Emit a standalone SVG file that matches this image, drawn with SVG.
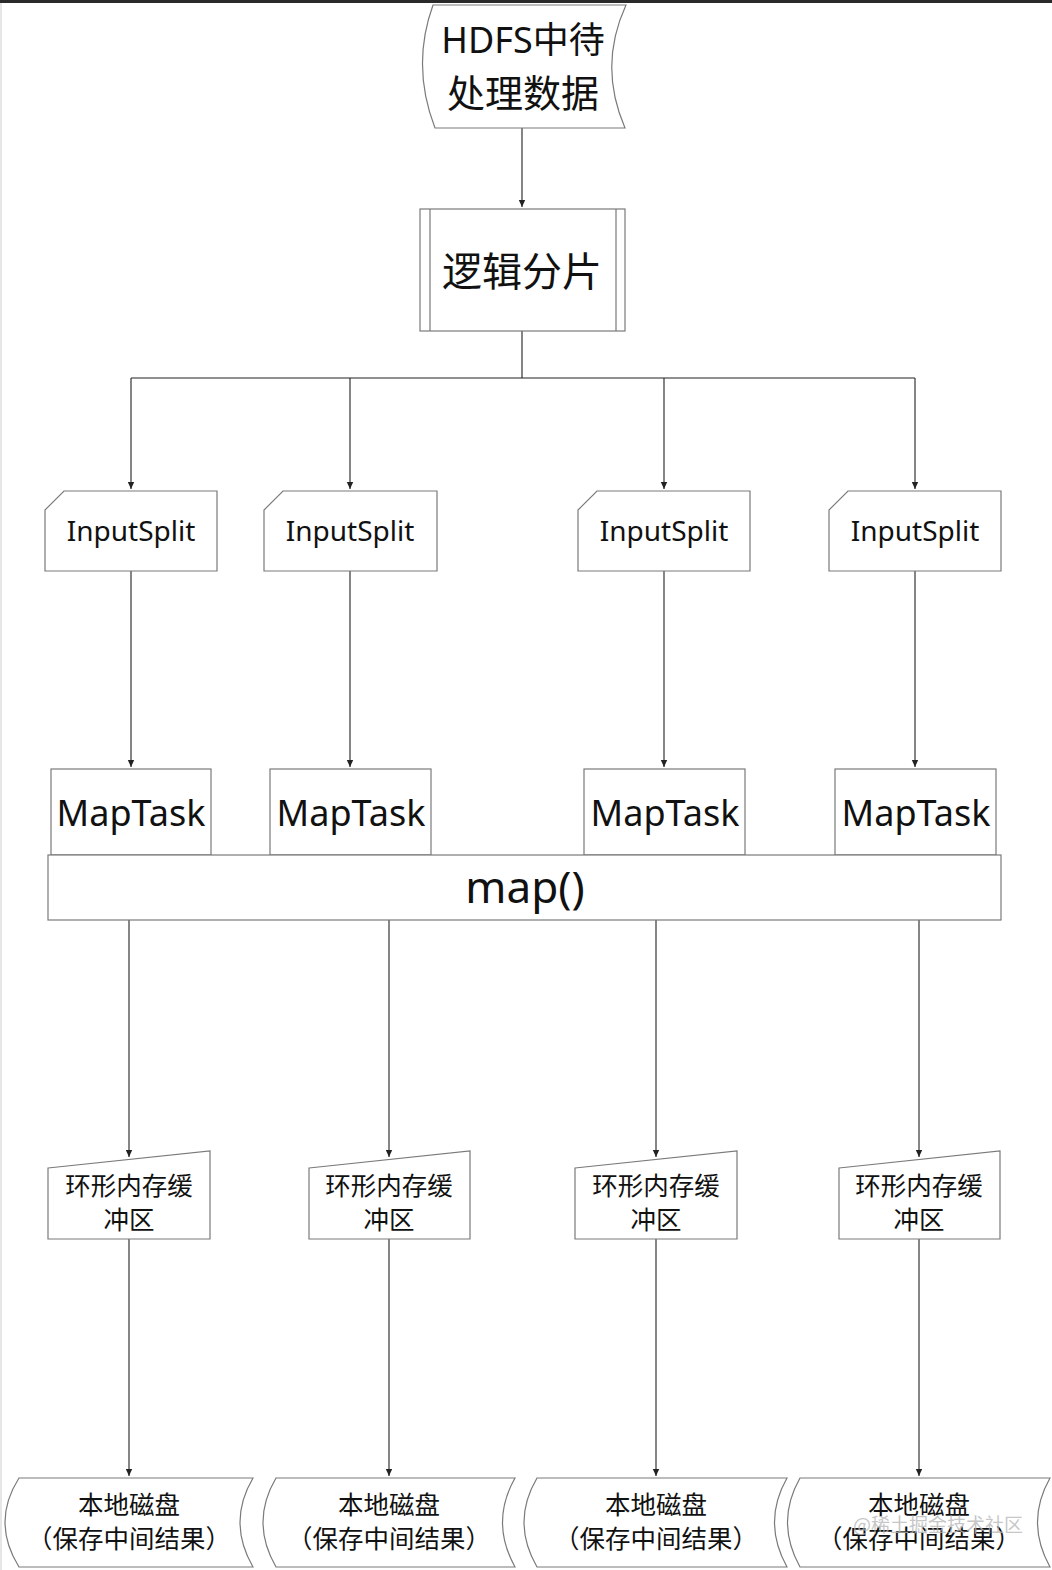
<svg xmlns="http://www.w3.org/2000/svg" width="1052" height="1570" viewBox="0 0 1052 1570">
<style>
.n{fill:#fff;stroke:#7a7a7a;stroke-width:1.2}
.t{font-family:"Noto Sans","Open Sans","Noto Sans CJK SC",sans-serif;fill:#111;text-anchor:middle}
.c{font-family:"Noto Sans CJK SC","Noto Sans",sans-serif;fill:#111;text-anchor:middle}
.s{font-size:25.5px}
.e{fill:none;stroke:#222;stroke-width:1.1}
</style>
<defs>
<marker id="a" markerWidth="8" markerHeight="8" refX="7" refY="4" orient="auto" markerUnits="userSpaceOnUse">
<path d="M0,0.8 L7,4 L0,7.2 Z" fill="#222"/>
</marker>
</defs>
<rect width="1052" height="1570" fill="#fff"/>
<rect x="0" y="0" width="1052" height="3" fill="#2a2a2a"/>
<rect x="0" y="3" width="2" height="1567" fill="#e6e6e6"/>

<g id="connectors">
<path class="e" d="M522,128 V207" marker-end="url(#a)"/>
<path class="e" d="M522,331 V378 M131,378 H915"/>
<path class="e" d="M131,378 V489" marker-end="url(#a)"/>
<path class="e" d="M350,378 V489" marker-end="url(#a)"/>
<path class="e" d="M664,378 V489" marker-end="url(#a)"/>
<path class="e" d="M915,378 V489" marker-end="url(#a)"/>
<path class="e" d="M131,571 V767" marker-end="url(#a)"/>
<path class="e" d="M350,571 V767" marker-end="url(#a)"/>
<path class="e" d="M664,571 V767" marker-end="url(#a)"/>
<path class="e" d="M915,571 V767" marker-end="url(#a)"/>
<path class="e" d="M129,920 V1157" marker-end="url(#a)"/>
<path class="e" d="M389,920 V1157" marker-end="url(#a)"/>
<path class="e" d="M656,920 V1157" marker-end="url(#a)"/>
<path class="e" d="M919,920 V1157" marker-end="url(#a)"/>
<path class="e" d="M129,1239 V1476" marker-end="url(#a)"/>
<path class="e" d="M389,1239 V1476" marker-end="url(#a)"/>
<path class="e" d="M656,1239 V1476" marker-end="url(#a)"/>
<path class="e" d="M919,1239 V1476" marker-end="url(#a)"/>
</g>

<g id="hdfs">
<path class="n" d="M433,5 L626,5 Q598,66 625,128 L435,128 Q411,66 433,5 Z"/>
<text class="t" x="523" y="53" font-size="36">HDFS中待</text>
<text class="c" x="523" y="107" font-size="38">处理数据</text>
</g>

<g id="split">
<rect class="n" x="420" y="209" width="205" height="122"/>
<path class="n" d="M430,209 V331 M616,209 V331"/>
<text class="c" x="522" y="286" font-size="40">逻辑分片</text>
</g>

<g id="inputsplit1">
<path class="n" d="M64,491 H217 V571 H45 V510 Z"/>
<text class="t" x="131" y="541" font-size="28">InputSplit</text>
</g>
<g id="inputsplit2">
<path class="n" d="M283,491 H437 V571 H264 V510 Z"/>
<text class="t" x="350" y="541" font-size="28">InputSplit</text>
</g>
<g id="inputsplit3">
<path class="n" d="M597,491 H750 V571 H578 V510 Z"/>
<text class="t" x="664" y="541" font-size="28">InputSplit</text>
</g>
<g id="inputsplit4">
<path class="n" d="M848,491 H1001 V571 H829 V510 Z"/>
<text class="t" x="915" y="541" font-size="28">InputSplit</text>
</g>

<g id="maptask1">
<rect class="n" x="51" y="769" width="160" height="86"/>
<text class="t" x="131" y="826" font-size="36">MapTask</text>
</g>
<g id="maptask2">
<rect class="n" x="270" y="769" width="161" height="86"/>
<text class="t" x="351" y="826" font-size="36">MapTask</text>
</g>
<g id="maptask3">
<rect class="n" x="584" y="769" width="161" height="86"/>
<text class="t" x="665" y="826" font-size="36">MapTask</text>
</g>
<g id="maptask4">
<rect class="n" x="835" y="769" width="161" height="86"/>
<text class="t" x="916" y="826" font-size="36">MapTask</text>
</g>

<g id="map">
<rect class="n" x="48" y="855" width="953" height="65"/>
<text class="t" x="525" y="903" font-size="44">map()</text>
</g>

<g id="buffer1">
<path class="n" d="M48,1168 L210,1151 V1239 H48 Z"/>
<text class="c s" x="129" y="1195">环形内存缓</text>
<text class="c s" x="129" y="1229">冲区</text>
</g>
<g id="buffer2">
<path class="n" d="M309,1168 L470,1151 V1239 H309 Z"/>
<text class="c s" x="389" y="1195">环形内存缓</text>
<text class="c s" x="389" y="1229">冲区</text>
</g>
<g id="buffer3">
<path class="n" d="M575,1168 L737,1151 V1239 H575 Z"/>
<text class="c s" x="656" y="1195">环形内存缓</text>
<text class="c s" x="656" y="1229">冲区</text>
</g>
<g id="buffer4">
<path class="n" d="M839,1168 L1000,1151 V1239 H839 Z"/>
<text class="c s" x="919" y="1195">环形内存缓</text>
<text class="c s" x="919" y="1229">冲区</text>
</g>

<g id="disk1">
<path class="n" d="M19,1478 L253,1478 Q227,1522 253,1567 L19,1567 Q-9,1522 19,1478 Z"/>
<text class="c s" x="129" y="1514">本地磁盘</text>
<text class="c s" x="129" y="1548">（保存中间结果）</text>
</g>
<g id="disk2">
<path class="n" d="M276,1478 L515,1478 Q490,1522 515,1567 L276,1567 Q250,1522 276,1478 Z"/>
<text class="c s" x="389" y="1514">本地磁盘</text>
<text class="c s" x="389" y="1548">（保存中间结果）</text>
</g>
<g id="disk3">
<path class="n" d="M537,1478 L787,1478 Q762,1522 787,1567 L537,1567 Q511,1522 537,1478 Z"/>
<text class="c s" x="656" y="1514">本地磁盘</text>
<text class="c s" x="656" y="1548">（保存中间结果）</text>
</g>
<g id="disk4">
<path class="n" d="M800,1478 L1050,1478 Q1025,1522 1050,1567 L800,1567 Q775,1522 800,1478 Z"/>
<text class="c s" x="919" y="1514">本地磁盘</text>
<text class="c s" x="919" y="1548">（保存中间结果）</text>
</g>

<text x="938" y="1532" font-family="Noto Sans CJK SC,sans-serif" font-size="19" fill="#b8b8b8" fill-opacity="0.8" text-anchor="middle">@稀土掘金技术社区</text>
</svg>
